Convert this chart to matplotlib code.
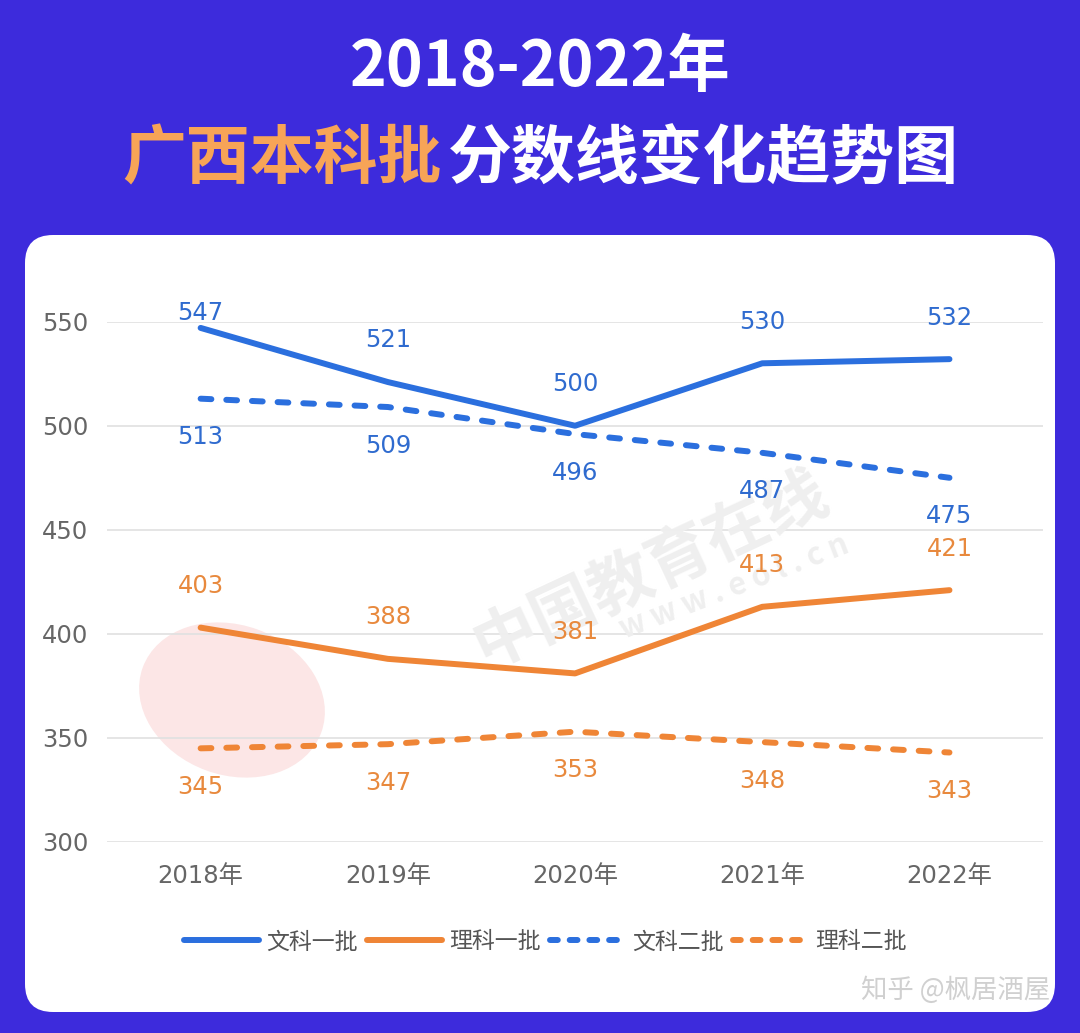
import numpy as np
import matplotlib
matplotlib.use("Agg")
import matplotlib.pyplot as plt
from matplotlib.patches import FancyBboxPatch, Ellipse
from matplotlib.transforms import IdentityTransform

plt.rcParams['font.family'] = ['Noto Sans CJK SC', 'DejaVu Sans']

# --- data ---
years = ['2018年', '2019年', '2020年', '2021年', '2022年']
wen1 = [547, 521, 500, 530, 532]   # 文科一批
li1 = [403, 388, 381, 413, 421]    # 理科一批
wen2 = [513, 509, 496, 487, 475]   # 文科二批
li2 = [345, 347, 353, 348, 343]    # 理科二批
names = ['文科一批', '理科一批', '文科二批', '理科二批']

# --- colours ---
bg = '#3D2BDC'
blue = '#2B6FDE'
orange = '#EF8536'
blue_txt = '#2F6BCF'
orange_txt = '#E8893D'

fig = plt.figure(figsize=(10.8, 10.33), dpi=100)
fig.patch.set_facecolor(bg)

# white rounded panel (pixel coords)
panel = FancyBboxPatch((25, 21), 1030, 777, boxstyle="round,pad=0,rounding_size=28",
                       transform=IdentityTransform(), facecolor='white',
                       edgecolor='none', zorder=-2)
fig.patches.append(panel)

# title
fig.text(0.5, 1 - 68 / 1033, '2018-2022年', color='white', fontsize=45,
         fontweight='bold', ha='center', va='center')
fig.text(442 / 1080, 1 - 160 / 1033, '广西本科批', color='#F7A457', fontsize=46,
         fontweight='bold', ha='right', va='center')
fig.text(448 / 1080, 1 - 160 / 1033, '分数线变化趋势图', color='white', fontsize=46,
         fontweight='bold', ha='left', va='center')

# watermark logo
logo = Ellipse((232, 1033 - 700), 190, 150, angle=-20, transform=IdentityTransform(),
               facecolor='#FCE6E6', edgecolor='none', zorder=-1)
fig.patches.append(logo)

ax = fig.add_axes([0.0991, 0.1849, 0.8667, 0.5037])
ax.set_facecolor('none')
x = np.arange(len(years))

ax.text(0.58, 0.525, '中国教育在线', transform=ax.transAxes, rotation=25, fontsize=46,
        fontweight='bold', color='#EFEFEF', ha='center', va='center', zorder=0.6)
ax.text(0.67, 0.49, 'w w w . e o l . c n', transform=ax.transAxes, rotation=21,
        fontsize=22, fontweight='bold', color='#EFEFEF', ha='center', va='center', zorder=0.6)

lw = 4.3
dash = (0, (1.8, 2.5))
ax.plot(x, wen1, color=blue, lw=lw, solid_capstyle='round', label=names[0], zorder=3)
ax.plot(x, li1, color=orange, lw=lw, solid_capstyle='round', label=names[1], zorder=3)
ax.plot(x, wen2, color=blue, lw=lw, linestyle=dash, dash_capstyle='round', label=names[2], zorder=3)
ax.plot(x, li2, color=orange, lw=lw, linestyle=dash, dash_capstyle='round', label=names[3], zorder=3)

# value labels
up, down, top = 20.0, -18.5, 554
for series, col, off in [(wen1, blue_txt, up), (li1, orange_txt, up),
                         (wen2, blue_txt, down), (li2, orange_txt, down)]:
    for xi, v in zip(x, series):
        ax.text(xi, min(v + off, top), str(v), color=col, fontsize=17.5,
                ha='center', va='center', zorder=4, family=['DejaVu Sans'])

ax.set_xlim(-0.5, 4.5)
ax.set_ylim(300, 550)
ax.set_yticks([300, 350, 400, 450, 500, 550])
ax.set_xticks(x)
ax.set_xticklabels(years)
ax.tick_params(axis='both', length=0, colors='#666666', labelsize=17.5)
ax.tick_params(axis='x', pad=16)
ax.tick_params(axis='y', pad=13.5)
for lab in ax.get_yticklabels() + ax.get_xticklabels():
    lab.set_family(['DejaVu Sans', 'Noto Sans CJK SC'])
ax.grid(axis='y', color='#E0E0E0', lw=1.2)
ax.set_axisbelow(True)
for s in ax.spines.values():
    s.set_visible(False)

# legend: dashed handles get a short pattern so they end on a dash
leg = fig.legend(loc='center', bbox_to_anchor=(0.505, 1 - 942 / 1033), ncol=4, frameon=False,
                 fontsize=16.5, handlelength=3.3, handletextpad=0.3, columnspacing=0.4,
                 labelcolor='#555555')
for h in leg.get_lines()[2:]:
    h.set_linestyle((0, (1.3, 2.0)))

fig.text(1050 / 1080, 1 - 990 / 1033, '知乎 @枫居酒屋', color='#D0D0D0', fontsize=19,
         ha='right', va='center')

fig.savefig('out.png', dpi=100, facecolor=bg)
